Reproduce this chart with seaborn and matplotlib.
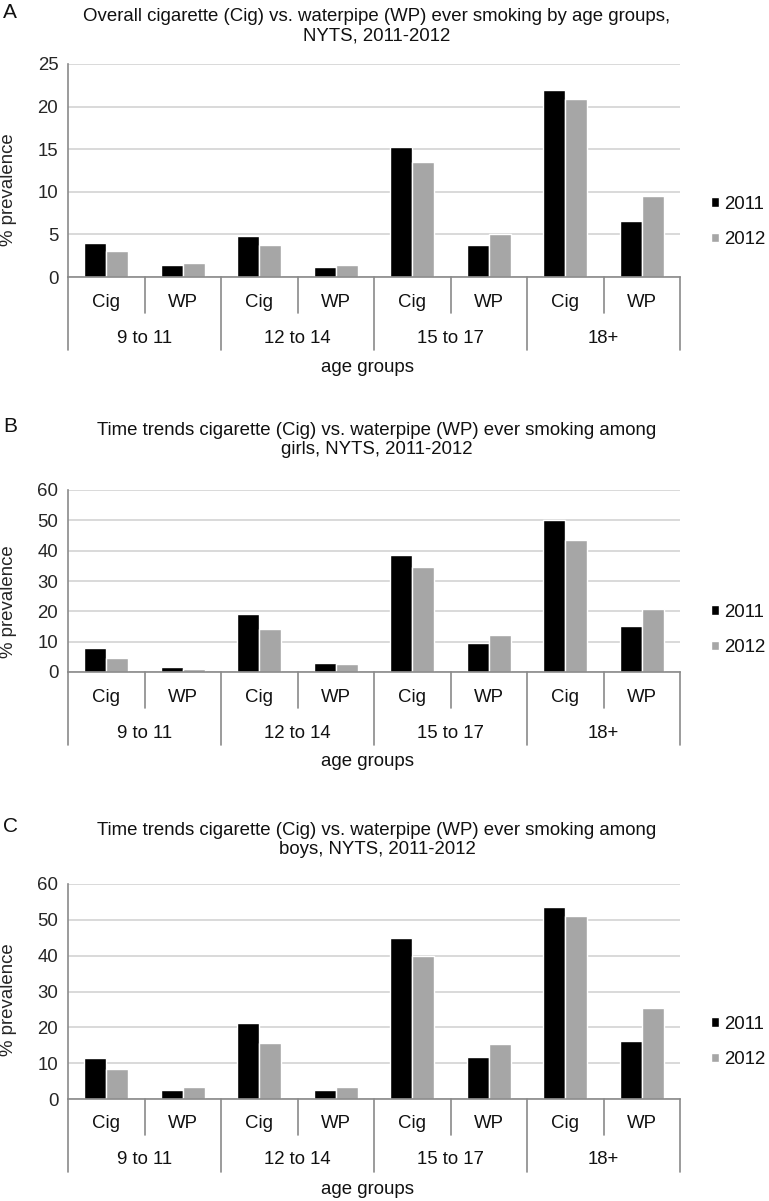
import matplotlib
matplotlib.use("Agg")
import matplotlib.pyplot as plt
import seaborn as sns
import pandas as pd

# categories
age_groups = ["9 to 11", "12 to 14", "15 to 17", "18+"]
products = ["Cig", "WP"]
years = ["2011", "2012"]

# values, order: (9-11 Cig, 9-11 WP, 12-14 Cig, 12-14 WP, ...)
overall_2011 = [4.0, 1.4, 4.8, 1.2, 15.3, 3.8, 22.0, 6.6]
overall_2012 = [3.0, 1.7, 3.8, 1.4, 13.5, 5.0, 20.9, 9.5]
girls_2011 = [7.9, 1.5, 19.1, 2.9, 38.6, 9.7, 50.0, 15.1]
girls_2012 = [4.6, 1.0, 14.1, 2.8, 34.5, 12.3, 43.6, 20.9]
boys_2011 = [11.4, 2.5, 21.2, 2.5, 45.0, 11.8, 53.5, 16.2]
boys_2012 = [8.4, 3.3, 15.6, 3.3, 40.0, 15.3, 51.1, 25.4]

titles = [
    "Overall cigarette (Cig) vs. waterpipe (WP) ever smoking by age groups,\nNYTS, 2011-2012",
    "Time trends cigarette (Cig) vs. waterpipe (WP) ever smoking among\ngirls, NYTS, 2011-2012",
    "Time trends cigarette (Cig) vs. waterpipe (WP) ever smoking among\nboys, NYTS, 2011-2012",
]
panel_letters = ["A", "B", "C"]
y_max = [25, 60, 60]
y_step = [5, 10, 10]

sns.set_theme(style="white")
plt.rcParams["font.family"] = ["Liberation Sans", "DejaVu Sans"]
plt.rcParams["text.color"] = "#111111"

FS = 13.4
W, H = 769, 1201
fig = plt.figure(figsize=(W / 100, H / 100), dpi=100)

# plot area in pixels: (top, bottom)
boxes = [(64, 277), (490, 672), (884, 1099)]
left_px, right_px = 68, 680
title_y = [26, 440, 840]
legend_y = [222, 630, 1042]
ylab_frac = [0.41, 0.385, 0.46]

cats = [f"{p} {g}" for g in age_groups for p in products]
series = [(overall_2011, overall_2012), (girls_2011, girls_2012), (boys_2011, boys_2012)]

line_col = "#8a8a8a"
for i, (v11, v12) in enumerate(series):
    top, bot = boxes[i]
    ax = fig.add_axes([left_px / W, 1 - bot / H, (right_px - left_px) / W, (bot - top) / H])
    df = pd.DataFrame({
        "cat": cats * 2,
        "year": [years[0]] * 8 + [years[1]] * 8,
        "value": list(v11) + list(v12),
    })
    sns.barplot(data=df, x="cat", y="value", hue="year", order=cats,
                palette=["black", "#a6a6a6"], saturation=1, width=0.58,
                ax=ax, errorbar=None)
    ax.set_xlim(-0.5, 7.5)
    ax.set_ylim(0, y_max[i])
    ax.set_yticks(range(0, y_max[i] + 1, y_step[i]))
    ax.tick_params(axis="y", length=0, labelsize=FS, pad=7)
    ax.set_xticks([])
    ax.set_xlabel("")
    ax.set_ylabel("% prevalence", fontsize=FS)
    ax.yaxis.set_label_coords(-0.083, ylab_frac[i])
    ax.yaxis.grid(True, color="#d9d9d9", lw=1.4)
    ax.set_axisbelow(True)
    for s in ["top", "right"]:
        ax.spines[s].set_visible(False)
    for s in ["left", "bottom"]:
        ax.spines[s].set_color(line_col)
        ax.spines[s].set_linewidth(1.2)

    # two-level category axis under the bars
    hpx = bot - top
    f = lambda d: -d / hpx
    tr = ax.get_xaxis_transform()
    for k, c in enumerate(cats):
        ax.text(k, f(25), products[k % 2], transform=tr, ha="center", va="center", fontsize=FS)
    for k in range(4):
        ax.plot([2 * k + 0.5] * 2, [0, f(36)], transform=tr, color=line_col, lw=1.2, clip_on=False)
        ax.text(2 * k + 0.5, f(61), age_groups[k], transform=tr, ha="center", va="center", fontsize=FS)
    for k in range(5):
        ax.plot([2 * k - 0.5] * 2, [0, f(73)], transform=tr, color=line_col, lw=1.2, clip_on=False)
    ax.text(0.49, f(90), "age groups", transform=ax.transAxes, ha="center", va="center", fontsize=FS)

    handles, labels = ax.get_legend_handles_labels()
    ax.legend(handles, labels, loc="center left", bbox_to_anchor=(711 / W, 1 - legend_y[i] / H),
              bbox_transform=fig.transFigure, frameon=False, fontsize=FS, borderpad=0,
              borderaxespad=0, handlelength=0.42, handleheight=0.42, handletextpad=0.3,
              labelspacing=1.0)

    fig.text(377 / W, 1 - title_y[i] / H, titles[i], ha="center", va="center",
             fontsize=FS, linespacing=1.2)
    fig.text(3 / W, 1 - (title_y[i] - 13) / H, panel_letters[i], ha="left", va="center", fontsize=15)

fig.savefig("out.png", dpi=100, facecolor="white")
